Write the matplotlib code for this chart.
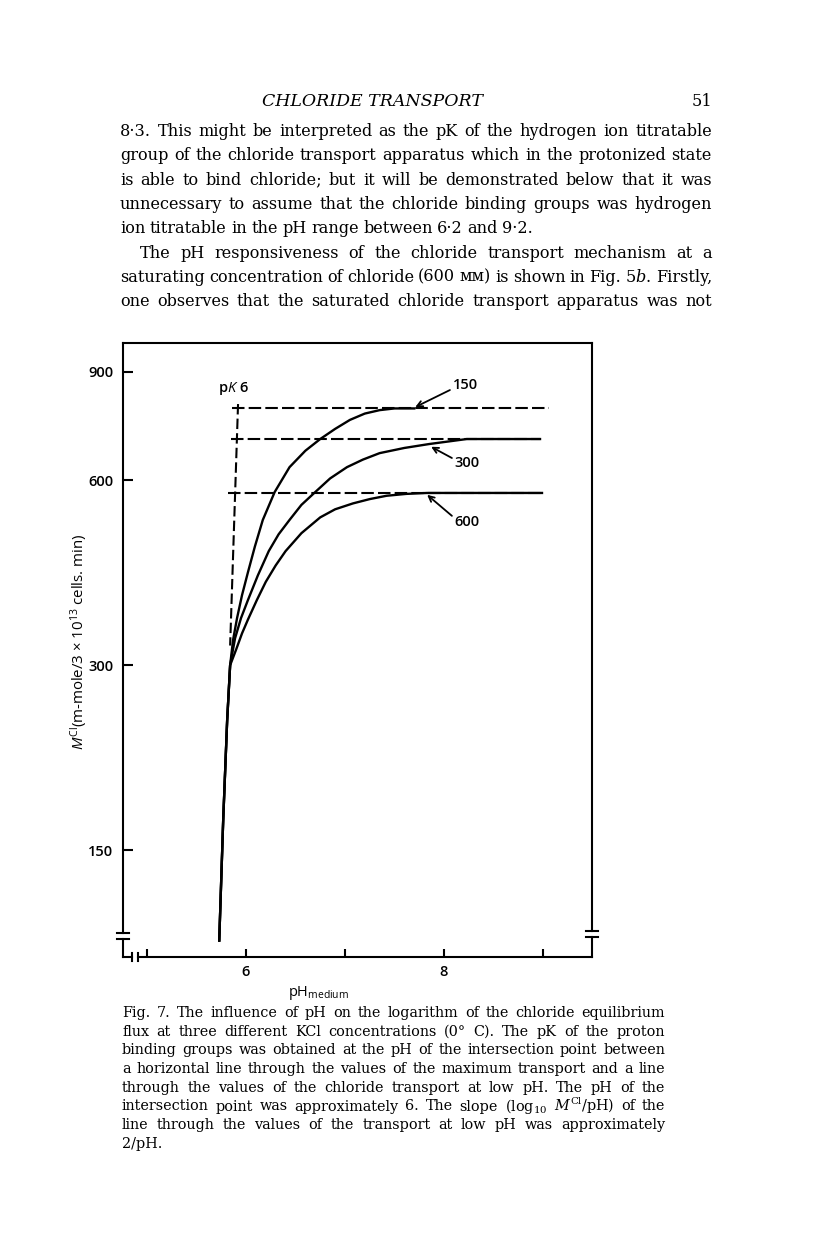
import matplotlib
matplotlib.use("Agg")
import matplotlib.pyplot as plt

plt.rcParams['mathtext.fontset'] = 'custom'
plt.rcParams['mathtext.rm'] = 'Open Sans'
plt.rcParams['mathtext.it'] = 'Open Sans:italic'
plt.rcParams['mathtext.bf'] = 'Open Sans:bold'

# ---------------- data ----------------
ytick_vals = [150, 300, 600, 900]
ytick_labels = ['150', '300', '600', '900']
xtick_vals = [5, 6, 7, 8, 9]
xtick_labels = ['', '6', '', '8', '']

c150_ph = [5.73, 5.77, 5.81, 5.84, 5.87, 5.91, 5.96, 6.02, 6.09, 6.17, 6.29, 6.44, 6.60, 6.75, 6.90, 7.05, 7.20, 7.35, 7.50, 7.70]
c150_m = [107, 168, 244, 300, 330, 358, 390, 425, 468, 517, 574, 630, 670, 700, 727, 752, 770, 780, 785, 785]

c300_ph = [5.73, 5.77, 5.81, 5.84, 5.89, 5.95, 6.02, 6.12, 6.23, 6.33, 6.44, 6.56, 6.70, 6.85, 7.02, 7.18, 7.35, 7.60, 7.85, 8.23, 8.97]
c300_m = [107, 168, 244, 300, 332, 358, 383, 420, 460, 490, 517, 547, 574, 604, 630, 648, 664, 677, 687, 700, 700]

c600_ph = [5.73, 5.77, 5.81, 5.84, 5.90, 5.96, 6.02, 6.11, 6.20, 6.30, 6.40, 6.56, 6.75, 6.90, 7.08, 7.25, 7.42, 7.62, 7.83, 8.99]
c600_m = [107, 168, 244, 300, 318, 338, 356, 383, 410, 436, 460, 492, 522, 538, 550, 559, 566, 570, 572, 572]

max_levels = [785, 700, 572]
max_ph_start = [5.86, 5.85, 5.82]
max_ph_end = [9.06, 8.97, 8.99]

pk_line_ph = [5.92, 5.84]
pk_line_m = [798, 323]

curve_labels = ['150', '300', '600']
label_pos = [(8.22, 857), (8.23, 640), (8.23, 513)]
arrow_tail = [(8.06, 841), (8.08, 652), (8.08, 525)]
arrow_head = [(7.71, 789), (7.87, 680), (7.83, 568)]

header_title = "CHLORIDE TRANSPORT"
page_number = "51"

body_lines = [
    "8·3. This might be interpreted as the pK of the hydrogen ion titratable",
    "group of the chloride transport apparatus which in the protonized state",
    "is able to bind chloride; but it will be demonstrated below that it was",
    "unnecessary to assume that the chloride binding groups was hydrogen",
    "ion titratable in the pH range between 6·2 and 9·2.",
    "The pH responsiveness of the chloride transport mechanism at a",
    "saturating concentration of chloride (600 ᴍᴍ) is shown in Fig. 5$b$. Firstly,",
    "one observes that the saturated chloride transport apparatus was not",
]
body_justify = [True, True, True, True, False, True, True, True]
body_indent = [0, 0, 0, 0, 0, 20, 0, 0]

caption_lines = [
    "Fig. 7. The influence of pH on the logarithm of the chloride equilibrium",
    "flux at three different KCl concentrations (0° C). The pK of the proton",
    "binding groups was obtained at the pH of the intersection point between",
    "a horizontal line through the values of the maximum transport and a line",
    "through the values of the chloride transport at low pH. The pH of the",
    "intersection point was approximately 6. The slope (log$_{10}$ $M^{\\mathrm{Cl}}$/pH) of the",
    "line through the values of the transport at low pH was approximately",
    "2/pH.",
]
caption_justify = [True, True, True, True, True, True, True, False]

# ---------------- figure ----------------
W, H = 816, 1248
fig = plt.figure(figsize=(W / 100, H / 100), dpi=100)
fig.patch.set_facecolor('white')


def fx(px):
    return px / W


def fy(py):
    return 1 - py / H


sans = ['Open Sans', 'DejaVu Sans']
serif = ['DejaVu Serif', 'DejaVu Sans']
cfs = 10.5

ax = fig.add_axes([fx(123), fy(957), (592 - 123) / W, (957 - 343) / H])
ax.set_yscale('log')
ax.set_xlim(4.758, 9.495)
ax.set_ylim(100.6, 1003)
for s in ax.spines.values():
    s.set_visible(False)

ax.set_yticks(ytick_vals)
ax.set_yticklabels(ytick_labels)
ax.yaxis.set_minor_locator(matplotlib.ticker.NullLocator())
ax.set_xticks(xtick_vals)
ax.set_xticklabels(xtick_labels)
ax.tick_params(axis='y', direction='in', length=7, width=1.5, pad=7, labelsize=cfs)
ax.tick_params(axis='x', direction='in', length=6, width=1.5, pad=6, labelsize=cfs)
for lab in ax.get_xticklabels() + ax.get_yticklabels():
    lab.set_family(sans)
    lab.set_weight('semibold')

# frame with breaks
fk = dict(color='black', lw=1.5, transform=ax.transAxes, clip_on=False, solid_capstyle='projecting')
bx = 6 / 469
by = 4 / 614
ax.plot([0, 1], [1, 1], **fk)
ax.plot([0, 0], [0.0391, 1], **fk)
ax.plot([0, 0], [0, 0.0293], **fk)
for yy in (0.0391, 0.0293):
    ax.plot([-bx, bx], [yy, yy], **fk)
ax.plot([1, 1], [0.0423, 1], **fk)
ax.plot([1, 1], [0, 0.0326], **fk)
for yy in (0.0423, 0.0326):
    ax.plot([1 - bx, 1 + bx], [yy, yy], **fk)
ax.plot([0, 0.0192], [0, 0], **fk)
ax.plot([0.032, 1], [0, 0], **fk)
for xx in (0.0192, 0.032):
    ax.plot([xx, xx], [-by, by], **fk)

# dashed maxima lines and pK line
for lvl, a, b in zip(max_levels, max_ph_start, max_ph_end):
    ax.plot([a, b], [lvl, lvl], color='black', lw=1.5, ls=(0, (6, 2)))
ax.plot(pk_line_ph, pk_line_m, color='black', lw=1.5, ls=(0, (5, 2)))

# curves
for xs, ys in ((c150_ph, c150_m), (c300_ph, c300_m), (c600_ph, c600_m)):
    ax.plot(xs, ys, color='black', lw=1.7, solid_joinstyle='round')

# annotations
for lab, pos, tail, head in zip(curve_labels, label_pos, arrow_tail, arrow_head):
    ax.text(pos[0], pos[1], lab, ha='center', va='center', fontsize=cfs,
            family=sans, weight='semibold')
    ax.annotate('', xy=head, xytext=tail,
                arrowprops=dict(arrowstyle='->', lw=1.3, color='black',
                                shrinkA=0, shrinkB=0, mutation_scale=10))
ax.text(5.87, 845, 'p$K$ 6', ha='center', va='center', fontsize=cfs,
        family=sans, weight='semibold')

fig.text(fx(79), fy(642), '$M^{\\mathrm{Cl}}$(m-mole/3 × 10$^{13}$ cells. min)',
         rotation=90, ha='center', va='center', fontsize=10.8, family=sans)
fig.text(fx(318), fy(993), 'pH$_{\\mathrm{medium}}$', ha='center', va='center',
         fontsize=cfs, family=sans)

# ---------------- page text ----------------
renderer = fig.canvas.get_renderer()


def place_line(line, x0, x1, ybase, size, justify, **kw):
    words = line.split(' ')
    texts = [fig.text(0, 0, w, fontsize=size, family=serif, ha='left', va='baseline',
                      math_fontfamily='dejavuserif', **kw) for w in words]
    widths = [t.get_window_extent(renderer).width for t in texts]
    if justify and len(words) > 1:
        gap = (x1 - x0 - sum(widths)) / (len(words) - 1)
    else:
        gap = 0.28 * size * 100 / 72
    x = x0
    for t, wdt in zip(texts, widths):
        t.set_position((fx(x), fy(ybase)))
        x += wdt + gap


bfs = 11.6
fig.text(fx(372), fy(106), header_title, fontsize=12.5, family=serif, style='italic',
         ha='center', va='baseline')
fig.text(fx(712), fy(106), page_number, fontsize=bfs, family=serif, ha='right', va='baseline')

for i, (ln, j, ind) in enumerate(zip(body_lines, body_justify, body_indent)):
    place_line(ln, 120 + ind, 712, 136 + 24.3 * i, bfs, j)

for i, (ln, j) in enumerate(zip(caption_lines, caption_justify)):
    place_line(ln, 122, 665, 1017 + 18.7 * i, 10.4, j)

fig.savefig('out.png', dpi=100, facecolor='white')
